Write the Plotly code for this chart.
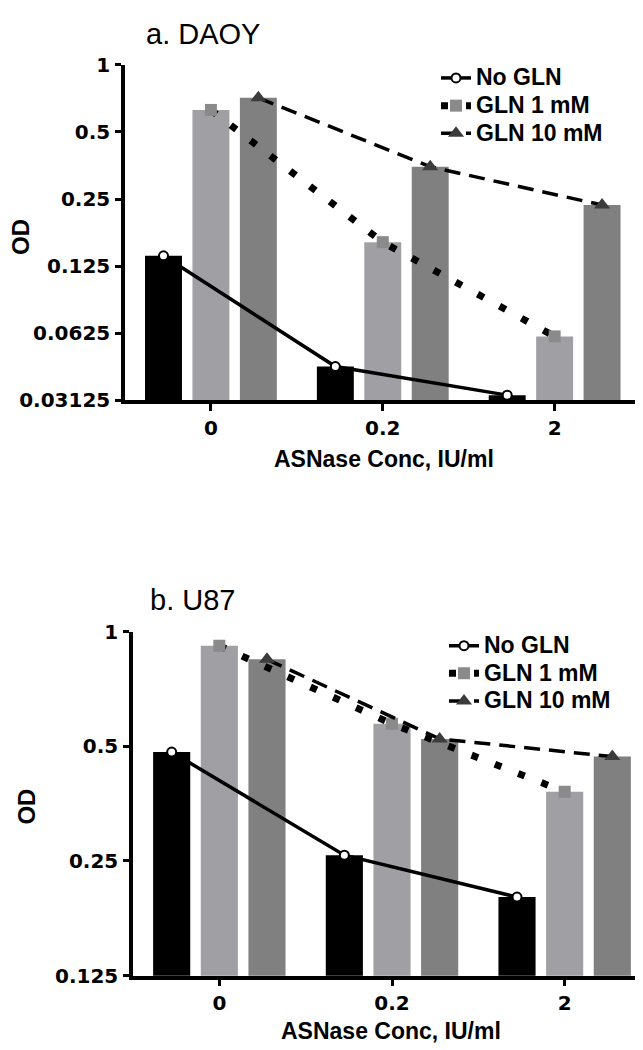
import plotly.graph_objects as go

# ASNase concentration (IU/ml) categories
conc_labels = ["0", "0.2", "2"]
series_names = ["No GLN", "GLN 1 mM", "GLN 10 mM"]

# a. DAOY  (OD)
daoy_no_gln = [0.139, 0.0442, 0.0329]
daoy_gln1 = [0.628, 0.160, 0.0604]
daoy_gln10 = [0.712, 0.349, 0.235]

# b. U87
u87_no_gln = [0.483, 0.259, 0.201]
u87_gln1 = [0.918, 0.573, 0.380]
u87_gln10 = [0.846, 0.523, 0.470]

ticks_a = [1, 0.5, 0.25, 0.125, 0.0625, 0.03125]
ticks_b = [1, 0.5, 0.25, 0.125]

W, H = 643, 1050
bar_colors = ["#000000", "#a0a0a4", "#808080"]
offsets = [-0.276, 0.0, 0.276]
bar_width = 0.215

line_styles = [
    dict(color="black", width=3.5, dash="solid"),
    dict(color="black", width=7, dash="7px,18px"),
    dict(color="black", width=3.5, dash="16px,9px"),
]
marker_styles = [
    dict(symbol="circle", size=9, color="white", line=dict(color="black", width=2)),
    dict(symbol="square", size=12, color="#8a8a8a", line=dict(width=0)),
    dict(symbol="triangle-up", size=14, color="#3c3c3c", line=dict(width=0)),
]

fig = go.Figure()


def add_panel(values, xa, ya, legend):
    for k, vals in enumerate(values):
        xs = [i + offsets[k] for i in range(len(conc_labels))]
        fig.add_trace(go.Bar(
            x=xs, y=vals, width=bar_width,
            marker=dict(color=bar_colors[k], line=dict(width=0)),
            xaxis=xa, yaxis=ya, showlegend=False, hoverinfo="skip",
        ))
    for k, vals in enumerate(values):
        xs = [i + offsets[k] for i in range(len(conc_labels))]
        # bigger text than the legend font, so rows stay tight like the original
        label = '<span style="font-size:23px">%s</span>' % series_names[k]
        fig.add_trace(go.Scatter(
            x=xs, y=vals, mode="lines+markers", name=label,
            line=line_styles[k], marker=marker_styles[k],
            xaxis=xa, yaxis=ya, legend=legend,
        ))


add_panel([daoy_no_gln, daoy_gln1, daoy_gln10], "x", "y", "legend")
add_panel([u87_no_gln, u87_gln1, u87_gln10], "x2", "y2", "legend2")

tick_font = dict(family="DejaVu Sans", size=20, color="black", weight="bold")
text_font = dict(family="Liberation Sans, Arial", color="black")


def px_x(p):
    return p / W


def px_y(p):
    return 1 - p / H


xaxis_common = dict(
    tickvals=[0, 1, 2], ticktext=conc_labels, tickfont=tick_font,
    showline=True, linecolor="black", linewidth=3.5,
    ticks="outside", ticklen=7, tickwidth=3, tickcolor="black",
    showgrid=False, zeroline=False, ticklabelstandoff=0,
)
yaxis_common = dict(
    type="log", tickfont=tick_font,
    showline=True, linecolor="black", linewidth=3.5,
    ticks="outside", ticklen=6, tickwidth=3, tickcolor="black",
    showgrid=False, zeroline=False, ticklabelstandoff=1,
)

fig.update_layout(
    width=W, height=H,
    margin=dict(l=0, r=0, t=0, b=0),
    paper_bgcolor="white", plot_bgcolor="white",
    barmode="overlay",
    xaxis=dict(xaxis_common, domain=[px_x(117), px_x(636)], range=[-0.5, 2.52], anchor="y"),
    yaxis=dict(yaxis_common, domain=[px_y(389), px_y(46)], anchor="x",
               range=[-1.50515, 0], tickvals=ticks_a, ticktext=[str(t) for t in ticks_a]),
    xaxis2=dict(xaxis_common, domain=[px_x(125), 1.0], range=[-0.5, 2.5], anchor="y2"),
    yaxis2=dict(yaxis_common, domain=[px_y(978), px_y(626)], anchor="x2",
                range=[-0.90309, 0], tickvals=ticks_b, ticktext=[str(t) for t in ticks_b]),
    legend=dict(x=px_x(428), y=px_y(40), xanchor="left", yanchor="top",
                bgcolor="rgba(0,0,0,0)", tracegroupgap=0,
                font=dict(text_font, size=19, weight="bold")),
    legend2=dict(x=px_x(436), y=px_y(621), xanchor="left", yanchor="top",
                 bgcolor="rgba(0,0,0,0)", tracegroupgap=0,
                 font=dict(text_font, size=19, weight="bold")),
)

annotations = [
    dict(text="a. DAOY", x=px_x(136), y=px_y(14), xanchor="left", yanchor="middle",
         font=dict(text_font, size=29)),
    dict(text="b. U87", x=px_x(140), y=px_y(594), xanchor="left", yanchor="middle",
         font=dict(text_font, size=29)),
    dict(text="OD", x=px_x(13), y=px_y(222), textangle=-90,
         xanchor="center", yanchor="middle",
         font=dict(text_font, size=24, weight="bold")),
    dict(text="OD", x=px_x(19), y=px_y(805), textangle=-90,
         xanchor="center", yanchor="middle",
         font=dict(text_font, size=24, weight="bold")),
    dict(text="ASNase Conc, IU/ml", x=px_x(376), y=px_y(449),
         xanchor="center", yanchor="middle",
         font=dict(text_font, size=23, weight="bold")),
    dict(text="ASNase Conc, IU/ml", x=px_x(383), y=0,
         xanchor="center", yanchor="bottom",
         font=dict(text_font, size=23, weight="bold")),
]
for a in annotations:
    a.update(xref="paper", yref="paper", showarrow=False)
fig.update_layout(annotations=annotations)

fig.write_html("out.html")
